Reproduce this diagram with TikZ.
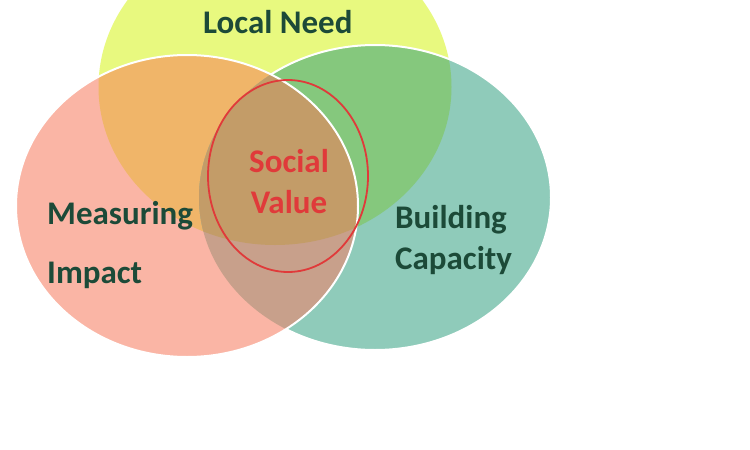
\documentclass[tikz,border=0pt]{standalone}
\usepackage{fontspec}
\setmainfont{Carlito}
\definecolor{cyel}{HTML}{E8F97F}
\definecolor{cpink}{HTML}{FAB5A5}
\definecolor{cteal}{HTML}{8FCBBA}
\definecolor{corange}{HTML}{F0B569}
\definecolor{cgreen}{HTML}{85C87D}
\definecolor{cmauve}{HTML}{C8A08B}
\definecolor{cbrown}{HTML}{C39C68}
\definecolor{ctext}{HTML}{1C4A38}
\definecolor{cred}{HTML}{E03A3A}
\tikzset{
  lbl/.style={anchor=base west, inner sep=0pt, font=\fontsize{33}{33}\selectfont\bfseries, text=ctext},
  redlbl/.style={anchor=base, inner sep=0pt, font=\fontsize{33}{33}\selectfont\bfseries, text=cred},
}
\def\Yell{(275,87) ellipse [x radius=176.5, y radius=158]}
\def\Pink{(187,206) ellipse [x radius=171, y radius=151]}
\def\Teal{(375,197.5) ellipse [x radius=176, y radius=152.5]}
\begin{document}
\begin{tikzpicture}[x=1pt,y=-1pt]
\useasboundingbox (0,0) rectangle (750,450);
\clip (0,0) rectangle (750,450);
\fill[white] (0,0) rectangle (750,450);
% base fills
\fill[cyel] \Yell;
\fill[cteal] \Teal;
\fill[cpink] \Pink;
% pairwise intersections
\begin{scope}\clip \Yell; \fill[corange] \Pink; \end{scope}
\begin{scope}\clip \Yell; \fill[cgreen] \Teal; \end{scope}
\begin{scope}\clip \Pink; \fill[cmauve] \Teal; \end{scope}
\begin{scope}\clip \Yell; \clip \Pink; \fill[cbrown] \Teal; \end{scope}
% white outlines
\begin{scope}[even odd rule]
  \clip (0,0) rectangle (750,450) \Pink;
  \draw[white, line width=2pt] \Teal;
\end{scope}
\draw[white, line width=2pt] \Pink;
% red ellipse
\draw[cred, line width=1.8pt] (288,176) ellipse [x radius=80, y radius=96];
% labels
\node[lbl] (need) at (203,33) {Local Need};
\node[lbl] (meas) at (47,224) {Measuring};
\node[lbl] (imp) at (47,283) {Impact};
\node[lbl] (build) at (395,228) {Building};
\node[lbl] (cap) at (395,269) {Capacity};
\node[redlbl] (soc) at (289,172) {Social};
\node[redlbl] (val) at (289,213) {Value};
\end{tikzpicture}
\end{document}
